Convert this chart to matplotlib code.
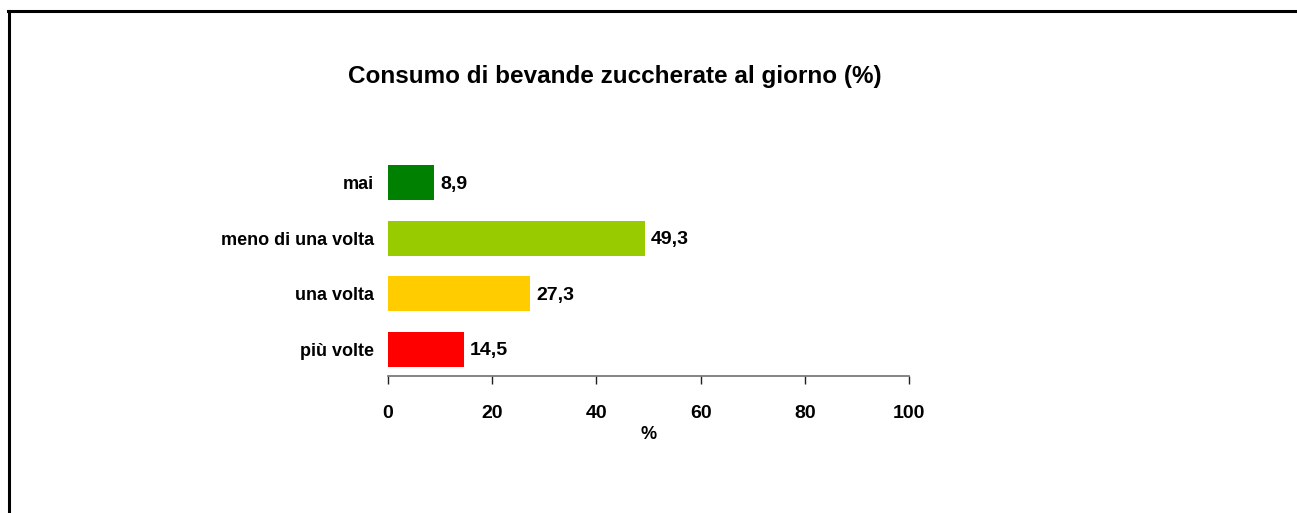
import matplotlib.pyplot as plt
from matplotlib.lines import Line2D

categories = ['mai', 'meno di una volta', 'una volta', 'più volte']
values = [8.9, 49.3, 27.3, 14.5]
labels = ['8,9', '49,3', '27,3', '14,5']
colors = ['#008000', '#99CC00', '#FFCC00', '#FF0000']
xticks = [0, 20, 40, 60, 80, 100]

plt.rcParams['font.family'] = ['Liberation Sans', 'DejaVu Sans']
plt.rcParams['font.weight'] = 'bold'

fig = plt.figure(figsize=(12.97, 5.13), dpi=100)
ax = fig.add_axes([0.2992, 0.2671, 0.4016, 0.4315])

ypos = range(len(categories))
ax.barh(ypos, values, height=0.63, color=colors)
for y, v, lab in zip(ypos, values, labels):
    ax.text(v + 1.1, y + 0.03, lab, va='center', ha='left', fontsize=14, fontweight='bold')

ax.set_xlim(0, 100)
ax.set_ylim(3.48, -0.5)
ax.set_yticks(list(ypos))
ax.set_yticklabels(categories, fontsize=13, fontweight='bold')
ax.tick_params(axis='y', length=0, pad=10)
ax.set_xticks(xticks)
ax.set_xticklabels([str(t) for t in xticks], fontsize=14, fontweight='bold')
ax.tick_params(axis='x', length=6, width=1, color='#202020', pad=15, direction='out')
ax.set_xlabel('%', fontsize=13, fontweight='bold', labelpad=3)

for s in ['top', 'right', 'left']:
    ax.spines[s].set_visible(False)
ax.spines['bottom'].set_color('#707070')
ax.spines['bottom'].set_linewidth(1.2)

fig.text(0.474, 0.851, 'Consumo di bevande zuccherate al giorno (%)', ha='center', va='center',
         fontsize=17.5, fontweight='bold')

# frame around the chart (only left and top edges visible in the crop)
fig.add_artist(Line2D([9 / 1297, 9 / 1297], [0, 1 - 11 / 513], transform=fig.transFigure, color='black', lw=2.2))
fig.add_artist(Line2D([8 / 1297, 1], [1 - 11 / 513, 1 - 11 / 513], transform=fig.transFigure, color='black', lw=2.2))

fig.savefig('out.png', dpi=100)
